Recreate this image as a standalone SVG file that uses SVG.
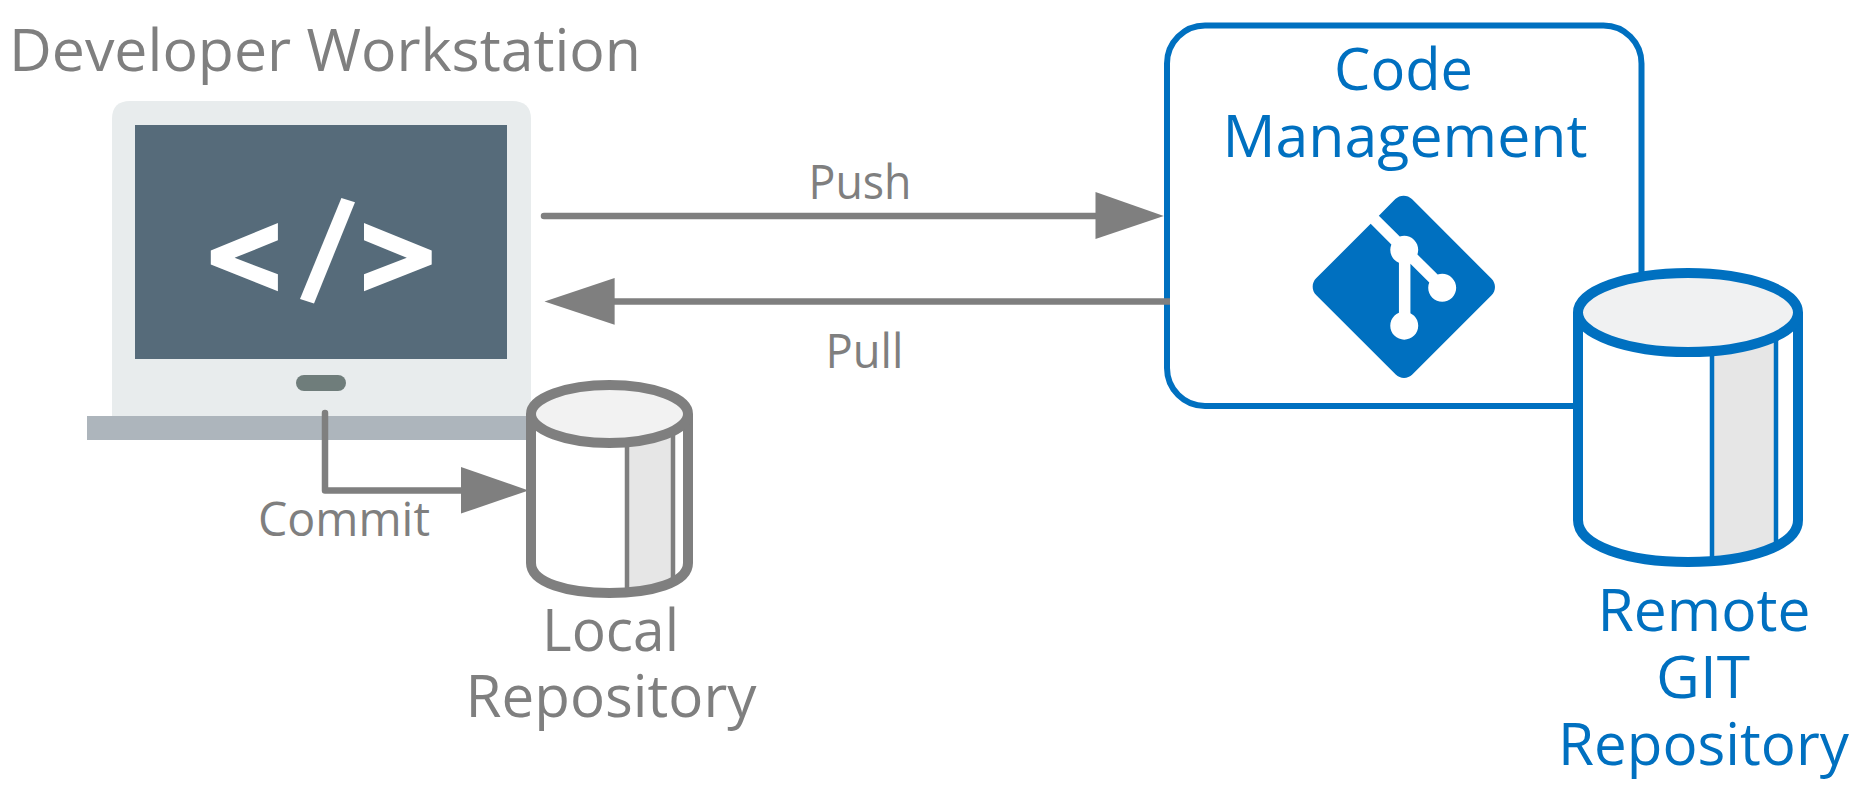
<svg xmlns="http://www.w3.org/2000/svg" width="1862" height="807" viewBox="0 0 1862 807">
  <style>
    text { font-family: "Open Sans", "Noto Sans", "Liberation Sans", sans-serif; }
    .g { fill: #7f7f7f; }
    .b { fill: #0070c0; }
    .big { font-size: 59px; }
    .small { font-size: 47px; }
    .conn { fill: none; stroke: #7f7f7f; stroke-width: 6.5; stroke-linecap: round; stroke-linejoin: round; }
    .head { fill: #7f7f7f; }
  </style>
  <defs>
    <clipPath id="localBody"><path d="M531 414V563C531 583 568 593 609.5 593S688 583 688 563V414Z"/></clipPath>
    <clipPath id="remoteBody"><path d="M1578 312V520C1578 546 1628 562 1688 562S1798 546 1798 520V312Z"/></clipPath>
  </defs>
  <rect width="1862" height="807" fill="#ffffff"/>

  <g id="title"><text class="g big" x="9" y="71" textLength="632" lengthAdjust="spacingAndGlyphs">Developer Workstation</text></g>

  <g id="laptop">
    <path d="M112 416V119Q112 101 130 101H512Q531 101 531 119V416Z" fill="#e8eced"/>
    <rect x="135" y="125" width="372" height="234" fill="#566b7a"/>
    <rect x="296" y="375" width="50" height="16" rx="8" fill="#6f7d7b"/>
    <rect x="87" y="416" width="450" height="24" fill="#adb5bc"/>
    <path fill="#ffffff" d="M210.8 250.6L277.9 222.9V240.3L234.6 257.8L277.9 274.3V291.3L210.8 264.5Z"/>
    <path fill="#ffffff" d="M341.4 198L355 202.3L314 303.6L300 299Z"/>
    <path fill="#ffffff" d="M364 222.9L431.7 250.6V264.5L364 291.3V274.3L406.8 257.8L364 240.3Z"/>
  </g>

  <g id="code-management">
    <rect x="1167" y="25.5" width="474.5" height="380.5" rx="38" fill="#ffffff" stroke="#0070c0" stroke-width="6"/>
    <text class="b big" x="1334" y="90" textLength="139" lengthAdjust="spacingAndGlyphs">Code</text>
    <text class="b big" x="1222.5" y="157" textLength="365" lengthAdjust="spacingAndGlyphs">Management</text>
    <path transform="translate(1307.6 190.6) scale(1.984)" fill="#0070c0" d="M92.71 44.408L52.591 4.291c-2.31-2.311-6.057-2.311-8.369 0l-8.33 8.332L46.459 23.19c2.456-.83 5.272-.273 7.229 1.685 1.969 1.97 2.521 4.81 1.67 7.275l10.186 10.185c2.465-.85 5.307-.3 7.275 1.671 2.75 2.75 2.75 7.206 0 9.958-2.752 2.751-7.208 2.751-9.961 0-2.068-2.07-2.58-5.11-1.531-7.658l-9.5-9.499v24.997c.67.332 1.303.774 1.861 1.332 2.75 2.75 2.75 7.206 0 9.959-2.75 2.749-7.209 2.749-9.957 0-2.75-2.754-2.75-7.21 0-9.959.68-.679 1.467-1.193 2.307-1.537V36.369c-.84-.344-1.625-.853-2.307-1.537-2.083-2.082-2.584-5.14-1.516-7.698L31.798 16.715 4.288 44.222c-2.311 2.313-2.311 6.06 0 8.371l40.121 40.118c2.31 2.311 6.056 2.311 8.369 0L92.71 52.779c2.311-2.311 2.311-6.06 0-8.371z"/>
  </g>

  <g id="local-repository">
    <path d="M531 414V563C531 583 568 593 609.5 593S688 583 688 563V414Z" fill="#ffffff"/>
    <rect x="627" y="414" width="46" height="185" fill="#e6e6e6" clip-path="url(#localBody)"/>
    <path d="M627 430V593M673 425V586" fill="none" stroke="#7f7f7f" stroke-width="4.5"/>
    <path d="M531 414V563C531 583 568 593 609.5 593S688 583 688 563V414" fill="none" stroke="#7f7f7f" stroke-width="10"/>
    <ellipse cx="609.5" cy="414" rx="78.5" ry="29" fill="#f2f2f2" stroke="#7f7f7f" stroke-width="10"/>
    <text class="g big" x="542" y="651" textLength="137" lengthAdjust="spacingAndGlyphs">Local</text>
    <text class="g big" x="465.5" y="717" textLength="291" lengthAdjust="spacingAndGlyphs">Repository</text>
  </g>

  <g id="remote-repository">
    <path d="M1578 312V520C1578 546 1628 562 1688 562S1798 546 1798 520V312Z" fill="#ffffff"/>
    <rect x="1712" y="312" width="64" height="255" fill="#e6e6e6" clip-path="url(#remoteBody)"/>
    <path d="M1712 345V560M1776 335V545" fill="none" stroke="#0070c0" stroke-width="4.5"/>
    <path d="M1578 312V520C1578 546 1628 562 1688 562S1798 546 1798 520V312" fill="none" stroke="#0070c0" stroke-width="10"/>
    <ellipse cx="1688" cy="312.5" rx="110" ry="39.5" fill="#f0f1f2" stroke="#0070c0" stroke-width="10"/>
    <text class="b big" x="1597.5" y="631" textLength="213" lengthAdjust="spacingAndGlyphs">Remote</text>
    <text class="b big" x="1656" y="698" textLength="94" lengthAdjust="spacingAndGlyphs">GIT</text>
    <text class="b big" x="1558" y="765" textLength="291" lengthAdjust="spacingAndGlyphs">Repository</text>
  </g>

  <g id="connectors">
    <path class="conn" d="M544 216H1100"/>
    <polygon class="head" points="1095.5,192 1163.8,216 1095.5,239"/>
    <path class="conn" d="M1170 301.5H610" style="stroke-linecap:butt"/>
    <polygon class="head" points="614.6,278 544.5,301.5 614.6,324.7"/>
    <path class="conn" d="M325 413V490.5H465"/>
    <polygon class="head" points="461,467 528.5,490.5 461,513.6"/>
  </g>

  <g id="labels">
    <text class="g small" x="808.5" y="199" textLength="103" lengthAdjust="spacingAndGlyphs">Push</text>
    <text class="g small" x="825.5" y="368" textLength="78" lengthAdjust="spacingAndGlyphs">Pull</text>
    <text class="g small" x="258" y="536" textLength="172" lengthAdjust="spacingAndGlyphs">Commit</text>
  </g>
</svg>
